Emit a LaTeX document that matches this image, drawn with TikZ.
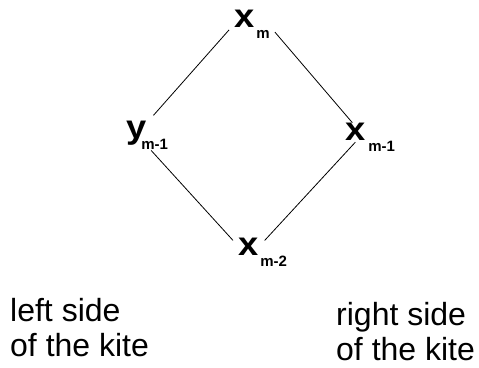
\documentclass[tikz,border=0pt]{standalone}
\usepackage{fontspec}
\setmainfont{Liberation Sans}
\usepackage{tikz}
\tikzset{
  var/.style={anchor=base west,inner sep=5bp,font=\fontsize{33bp}{36bp}\selectfont},
  note/.style={anchor=base west,inner sep=0pt,align=left,font=\fontsize{32bp}{35bp}\selectfont},
  link/.style={line width=0.8bp}
}
% stretched main letter and lowered bold index
\newcommand{\bigvar}[1]{\scalebox{1.1}[1]{\bfseries #1}}
\newcommand{\idx}[2][3bp]{\hspace{#1}\raisebox{-11bp}{\fontsize{15bp}{16bp}\selectfont\bfseries #2}}

\begin{document}
\begin{tikzpicture}[x=1bp,y=-1bp]
\useasboundingbox (0,0) rectangle (479,367);
\node[var] (xm) at (229,27) {\bigvar{x}\idx[2bp]{m}};
\node[var] (ym1) at (121,138) {\bigvar{y}\idx[-5bp]{m-1}};
\node[var] (xm1) at (340,140) {\bigvar{x}\idx{m-1}};
\node[var] (xm2) at (233,255) {\bigvar{x}\idx[2bp]{m-2}};
\draw[link] (xm.195) -- (ym1.72);
\draw[link,shorten >=-7bp] (xm.340) -- (xm1.139);
\draw[link,shorten <=-5bp] (ym1.291) -- (xm2.159);
\draw[link,shorten <=-19bp,shorten >=-11bp] (xm1.215) -- (xm2.64);
\node[note] (lside) at (10,356) {left side\\of the kite};
\node[note] (rside) at (336,360) {right side\\of the kite};
\end{tikzpicture}
\end{document}
